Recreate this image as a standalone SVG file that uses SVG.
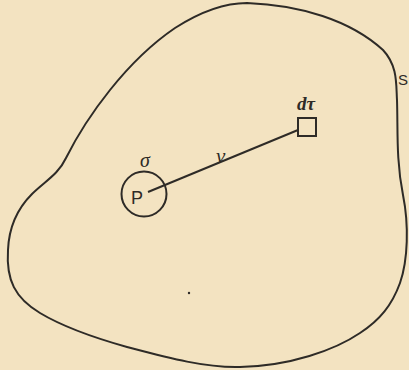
<svg xmlns="http://www.w3.org/2000/svg" width="409" height="370" viewBox="0 0 409 370">
<style>
.ln{fill:none;stroke:#2e2b27;stroke-width:2}
.it{font-family:"Liberation Serif",serif;font-style:italic;fill:#2e2b27}
.sa{font-family:"Liberation Sans",sans-serif;fill:#2e2b27}
</style>
<rect width="409" height="370" fill="#f3e3c1"/>
<g id="surface">
<path class="ln" d="M247,3 C300,5 350,20 383,50 C398,66 396,85 397,100 C398,130 396,160 403,195 C409,225 408,260 400,283 C392,305 380,320 360,333 C335,350 290,366 240,367 C205,368 165,357 127,347 C95,338 60,325 40,313 C15,298 6,280 8,250 C9,225 18,208 32,194 C45,181 58,175 66,158 C76,138 90,115 110,90 C130,65 150,45 175,28 C200,12 225,3 247,3 Z"/>
<text class="sa" x="398" y="85" font-size="15">S</text>
</g>
<g id="P">
<circle class="ln" cx="144" cy="194" r="22.5"/>
<text class="sa" x="131" y="204" font-size="18">P</text>
<text class="it" x="140" y="167" font-size="20">σ</text>
</g>
<g id="dtau">
<rect class="ln" x="298" y="118" width="18" height="18" stroke-width="1.8"/>
<text class="it" x="297" y="110" font-size="19" font-weight="bold">dτ</text>
</g>
<g id="connectors">
<line class="ln" x1="148" y1="192" x2="298" y2="130" stroke-width="1.8"/>
<text class="it" x="216" y="163" font-size="21">ν</text>
</g>
<circle cx="189" cy="293" r="1.2" fill="#2e2b27"/>
</svg>
